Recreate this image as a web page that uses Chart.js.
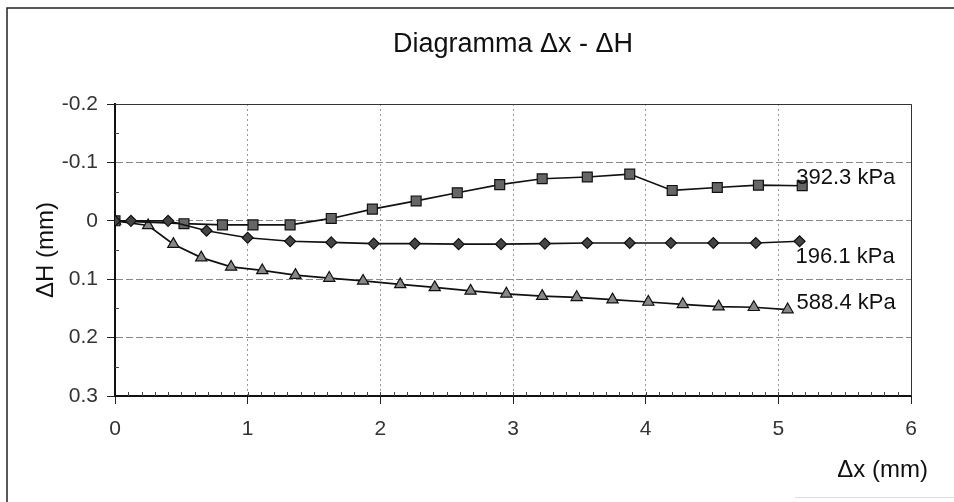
<!DOCTYPE html>
<html>
<head>
<meta charset="utf-8">
<script src="https://cdn.jsdelivr.net/npm/chart.js@4.4.1/dist/chart.umd.min.js"></script>
<style>
  html, body { margin: 0; padding: 0; background: #fff; }
  #chart { display: block; }
</style>
</head>
<body>
<canvas id="chart" width="954" height="502"></canvas>
<script>
// Dati (Δx in mm, ΔH in mm)
const dx196 = [0, 0.12, 0.40, 0.69, 1.00, 1.32, 1.63, 1.95, 2.26, 2.59, 2.91, 3.24, 3.56, 3.88, 4.19, 4.51, 4.83, 5.16];
const dh196 = [0, 0, 0, 0.017, 0.029, 0.035, 0.037, 0.039, 0.039, 0.040, 0.040, 0.039, 0.038, 0.038, 0.038, 0.038, 0.038, 0.035];

const dx392 = [0, 0.52, 0.81, 1.04, 1.32, 1.63, 1.94, 2.27, 2.58, 2.90, 3.22, 3.56, 3.88, 4.20, 4.54, 4.85, 5.18];
const dh392 = [0, 0.005, 0.007, 0.007, 0.007, -0.004, -0.020, -0.034, -0.048, -0.062, -0.072, -0.075, -0.080, -0.052, -0.057, -0.061, -0.060];

const dx588 = [0, 0.25, 0.44, 0.65, 0.875, 1.11, 1.36, 1.615, 1.87, 2.15, 2.41, 2.68, 2.95, 3.22, 3.48, 3.75, 4.02, 4.28, 4.55, 4.815, 5.07];
const dh588 = [0, 0.008, 0.040, 0.063, 0.079, 0.085, 0.093, 0.098, 0.103, 0.109, 0.114, 0.120, 0.125, 0.129, 0.131, 0.135, 0.139, 0.143, 0.147, 0.148, 0.152];

const seriesNames = ['196.1 kPa', '392.3 kPa', '588.4 kPa'];
const titleText = 'Diagramma \u0394x - \u0394H';
const xTitle = '\u0394x (mm)';
const yTitle = '\u0394H (mm)';
const xMin = 0, xMax = 6, xStep = 1;
const yMin = -0.2, yMax = 0.3, yStep = 0.1;

const FONT = "'Liberation Sans', Arial, sans-serif";

function toPoints(xs, ys) {
  return xs.map((x, i) => ({ x: x, y: ys[i] }));
}

// cornice, tacche secondarie, titoli ed etichette delle serie
const decorPlugin = {
  id: 'decor',
  beforeDraw(chart) {
    const ctx = chart.ctx;
    ctx.save();
    ctx.fillStyle = '#fff';
    ctx.fillRect(0, 0, chart.width, chart.height);
    ctx.strokeStyle = '#222';
    ctx.lineWidth = 1.5;
    ctx.beginPath();
    ctx.moveTo(7, chart.height);
    ctx.lineTo(7, 8);
    ctx.lineTo(chart.width, 8);
    ctx.stroke();
    // riga chiara in basso a destra
    ctx.strokeStyle = '#ddd';
    ctx.lineWidth = 1;
    ctx.beginPath();
    ctx.moveTo(795, 497.5);
    ctx.lineTo(chart.width, 497.5);
    ctx.stroke();
    ctx.restore();
  },
  afterDatasetsDraw(chart) {
    const ctx = chart.ctx;
    const a = chart.chartArea;
    const xs = chart.scales.x, ys = chart.scales.y;
    ctx.save();
    // bordo superiore e destro dell'area del grafico
    ctx.strokeStyle = '#333';
    ctx.lineWidth = 1;
    ctx.beginPath();
    ctx.moveTo(a.left, a.top + 0.5);
    ctx.lineTo(a.right + 0.5, a.top + 0.5);
    ctx.lineTo(a.right + 0.5, a.bottom);
    ctx.stroke();

    // tacche secondarie
    ctx.strokeStyle = '#444';
    ctx.beginPath();
    for (let v = xMin + 0.1; v < xMax - 0.01; v += 0.1) {
      const px = Math.round(xs.getPixelForValue(v)) + 0.5;
      ctx.moveTo(px, a.bottom);
      ctx.lineTo(px, a.bottom - 4);
    }
    for (let v = yMin + 0.05; v < yMax; v += 0.1) {
      const py = Math.round(ys.getPixelForValue(v)) + 0.5;
      ctx.moveTo(a.left, py);
      ctx.lineTo(a.left + 4, py);
    }
    ctx.stroke();

    // titolo
    ctx.fillStyle = '#111';
    ctx.font = '27px ' + FONT;
    ctx.textAlign = 'center';
    ctx.textBaseline = 'middle';
    ctx.fillText(titleText, (a.left + a.right) / 2, 45);

    // titolo asse x, a destra
    ctx.font = '24px ' + FONT;
    ctx.textAlign = 'right';
    ctx.fillText(xTitle, a.right + 17, 470);

    // etichette delle serie accanto all'ultimo punto
    ctx.font = '22px ' + FONT;
    ctx.textAlign = 'left';
    const offs = [[-4, 16], [-6, -8], [9, -7]];
    chart.data.datasets.forEach((ds, i) => {
      const last = ds.data[ds.data.length - 1];
      const px = xs.getPixelForValue(last.x) + offs[i][0];
      const py = ys.getPixelForValue(last.y) + offs[i][1];
      ctx.fillText(seriesNames[i], px, py);
    });
    ctx.restore();
  }
};

const ctx = document.getElementById('chart').getContext('2d');
const chart = new Chart(ctx, {
  type: 'line',
  data: {
    datasets: [
      {
        label: seriesNames[0],
        data: toPoints(dx196, dh196),
        borderColor: '#111',
        borderWidth: 1.7,
        pointStyle: 'rectRot',
        pointRadius: 5.5,
        pointBackgroundColor: '#444',
        pointBorderColor: '#111',
        pointBorderWidth: 1.2,
        tension: 0,
        fill: false
      },
      {
        label: seriesNames[1],
        data: toPoints(dx392, dh392),
        borderColor: '#111',
        borderWidth: 1.7,
        pointStyle: 'rect',
        pointRadius: 7,
        pointBackgroundColor: '#666',
        pointBorderColor: '#111',
        pointBorderWidth: 1.2,
        tension: 0,
        fill: false
      },
      {
        label: seriesNames[2],
        data: toPoints(dx588, dh588),
        borderColor: '#111',
        borderWidth: 1.7,
        pointStyle: 'triangle',
        pointRadius: 6.5,
        pointBackgroundColor: '#888',
        pointBorderColor: '#111',
        pointBorderWidth: 1.2,
        tension: 0,
        fill: false
      }
    ]
  },
  options: {
    responsive: false,
    animation: false,
    devicePixelRatio: 1,
    layout: {
      padding: { left: 20, right: 43, top: 104, bottom: 0 }
    },
    plugins: {
      legend: { display: false },
      title: { display: false },
      tooltip: { enabled: false }
    },
    scales: {
      x: {
        type: 'linear',
        min: xMin,
        max: xMax,
        ticks: {
          stepSize: xStep,
          color: '#333',
          font: { family: FONT, size: 21 },
          padding: 13
        },
        grid: {
          color: '#999',
          tickColor: '#222',
          tickLength: 8
        },
        border: { display: true, color: '#111', width: 2, dash: [2, 3] },
        title: { display: false },
        afterFit(s) { s.height = 106; }
      },
      y: {
        type: 'linear',
        reverse: true,
        min: yMin,
        max: yMax,
        ticks: {
          stepSize: yStep,
          color: '#333',
          font: { family: FONT, size: 21 },
          padding: 9,
          callback: (v) => String(Number(v.toFixed(1)))
        },
        grid: {
          color: '#888',
          tickColor: '#222',
          tickLength: 8
        },
        border: { display: true, color: '#111', width: 2, dash: [7, 3] },
        title: {
          display: true,
          text: yTitle,
          color: '#111',
          font: { family: FONT, size: 24 },
          padding: { top: 12, bottom: 0 }
        },
        afterFit(s) { s.width = 95; }
      }
    }
  },
  plugins: [decorPlugin]
});
</script>
</body>
</html>
